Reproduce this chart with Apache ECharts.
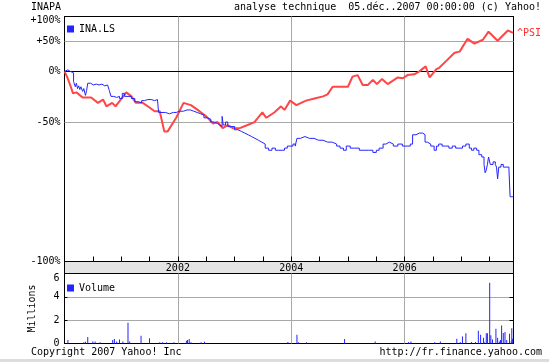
<!DOCTYPE html>
<html><head><meta charset="utf-8">
<script src="https://cdn.jsdelivr.net/npm/echarts@6/dist/echarts.min.js"></script>
<style>html,body{margin:0;padding:0;background:#fff}#c{width:549px;height:362px}</style>
</head><body><div id="c"></div>
<script>
// INA.LS relative performance (%), decimal years
const inaDates = [2000.00,2000.03,2000.06,2000.10,2000.13,2000.16,2000.19,2000.21,2000.23,2000.25,2000.27,2000.29,2000.32,2000.34,2000.37,2000.39,2000.41,2000.46,2000.51,2000.56,2000.61,2000.66,2000.71,2000.76,2000.79,2000.82,2000.87,2000.92,2000.97,2001.02,2001.06,2001.12,2001.18,2001.24,2001.30,2001.36,2001.41,2001.47,2001.53,2001.59,2001.64,2001.66,2001.72,2001.78,2001.85,2001.92,2001.97,2002.03,2002.10,2002.16,2002.22,2002.28,2002.34,2002.40,2002.46,2002.52,2002.58,2002.64,2002.70,2002.74,2002.78,2002.80,2002.84,2002.88,2002.94,2003.00,2003.06,2003.12,2003.18,2003.24,2003.30,2003.36,2003.42,2003.48,2003.54,2003.60,2003.66,2003.72,2003.78,2003.84,2003.88,2003.93,2003.98,2004.03,2004.07,2004.10,2004.16,2004.24,2004.32,2004.40,2004.48,2004.56,2004.64,2004.72,2004.80,2004.86,2004.92,2004.97,2005.04,2005.12,2005.20,2005.28,2005.36,2005.44,2005.50,2005.55,2005.62,2005.67,2005.73,2005.80,2005.88,2005.96,2006.04,2006.10,2006.14,2006.20,2006.26,2006.32,2006.36,2006.40,2006.46,2006.52,2006.56,2006.60,2006.66,2006.72,2006.78,2006.84,2006.90,2006.96,2007.02,2007.08,2007.14,2007.18,2007.22,2007.27,2007.31,2007.36,2007.40,2007.42,2007.44,2007.46,2007.48,2007.51,2007.56,2007.60,2007.62,2007.64,2007.66,2007.70,2007.74,2007.79,2007.84,2007.86,2007.91];
const inaPct = [0,2,0,1,-2,-13,-19,-15,-21,-18,-22,-19,-24,-21,-28,-23,-15,-17,-16,-17,-16,-18,-17,-18,-23,-29,-30,-29,-31,-26,-29,-29,-31,-34,-35,-33,-32,-32,-33,-32,-32,-43,-43,-44,-43,-43,-42,-42,-41,-41,-42,-43,-44,-45,-47,-48,-50,-51,-52,-53,-46,-52,-50,-53,-53,-55,-56,-57,-58,-59,-60,-61,-62,-63,-65,-66,-65,-66,-66,-66,-65,-64,-64,-63,-64,-60,-59,-60,-60,-61,-61,-62,-62,-63,-64,-65,-66,-64,-65,-65,-66,-66,-66,-67,-66,-65,-63,-62,-63,-64,-63,-64,-64,-63,-58,-57,-57,-58,-62,-63,-64,-66,-64,-63,-64,-64,-65,-64,-65,-65,-64,-63,-65,-66,-65,-66,-68,-69,-72,-75,-74,-72,-69,-72,-71,-72,-73,-77,-73,-72,-73,-73,-74,-82,-82];

// ^PSI relative performance (%)
const psiDates = [2000.00,2000.05,2000.10,2000.15,2000.21,2000.32,2000.47,2000.59,2000.68,2000.74,2000.84,2000.90,2001.09,2001.18,2001.26,2001.38,2001.50,2001.59,2001.68,2001.76,2001.82,2001.97,2002.10,2002.23,2002.38,2002.50,2002.62,2002.70,2002.79,2002.88,2002.97,2003.09,2003.23,2003.35,2003.49,2003.56,2003.70,2003.82,2003.88,2003.98,2004.09,2004.26,2004.41,2004.56,2004.64,2004.73,2004.88,2005.00,2005.08,2005.17,2005.26,2005.35,2005.44,2005.51,2005.60,2005.70,2005.88,2005.97,2006.05,2006.17,2006.26,2006.37,2006.44,2006.56,2006.61,2006.73,2006.88,2006.97,2007.11,2007.23,2007.38,2007.48,2007.64,2007.82,2007.91];
const psiPct = [0,-8,-17,-26,-25,-30,-30,-35,-32,-38,-35,-38,-25,-29,-35,-35,-39,-42,-42,-56,-56,-47,-35,-37,-42,-46,-51,-50,-54,-52,-54,-54,-52,-50,-43,-47,-43,-38,-41,-33,-37,-33,-31,-29,-27,-19,-19,-19,-7,-5,-17,-17,-11,-16,-10,-16,-8,-9,-5,-4,0,7,-8,3,5,15,29,31,56,46,54,72,52,75,69];

// Volume (millions)
const volDates = [2000.06,2000.34,2000.37,2000.41,2000.50,2000.54,2000.63,2000.85,2000.88,2000.92,2000.97,2001.03,2001.12,2001.15,2001.35,2001.50,2001.68,2001.73,2001.80,2001.93,2002.15,2002.17,2002.20,2002.23,2002.41,2002.47,2003.94,2004.10,2004.13,2004.27,2004.94,2005.48,2006.07,2006.11,2006.53,2006.63,2006.92,2006.98,2007.02,2007.08,2007.18,2007.25,2007.30,2007.34,2007.39,2007.40,2007.44,2007.46,2007.50,2007.52,2007.55,2007.61,2007.64,2007.67,2007.69,2007.71,2007.74,2007.77,2007.80,2007.85,2007.88,2007.89,2007.90];
const volMillions = [0.29,0.1,0.15,0.55,0.17,0.17,0.1,0.3,0.38,0.17,0.35,0.17,1.77,0.17,0.67,0.46,0.1,0.1,0.1,0.1,0.23,0.3,0.38,0.1,0.1,0.15,0.12,0.75,0.1,0.1,0.38,0.17,0.12,0.17,0.1,0.17,0.4,0.12,0.6,0.87,0.12,0.12,1.1,0.75,0.5,0.15,0.87,0.87,5.2,0.7,0.35,1.27,0.5,0.17,0.3,1.55,0.9,0.98,0.3,0.84,0.17,1.3,0.4];

const yTickPct = [100, 50, 0, -50, -100];
const gridPct = [50, 0, -50];
const volTicks = [0, 2, 4, 6];
const yearLabels = [2002, 2004, 2006];

const FONT = 'DejaVu Sans Mono';
const BLUE = '#2424ff', RED = '#ff4646', GRID = '#a8a8a8';
const X_MIN = 2000, X_MAX = 2007.92, Y_MIN = -2.6, Y_MAX = 0.75;
const toLog = p => p <= -100 ? Y_MIN : Math.log(1 + p / 100);
const pctLabel = v => {
  const i = yTickPct.findIndex(p => Math.abs(toLog(p) - v) < 1e-6);
  if (i < 0) return '';
  const p = yTickPct[i];
  return (p > 0 ? '+' : '') + p + '%';
};
const txt = {fontFamily: FONT, fontSize: 10, color: '#000'};
const blackLine = {show: true, onZero: false, lineStyle: {color: '#000', width: 1}};

const L = 64.5, W = 449;
const chart = echarts.init(document.getElementById('c'));
chart.setOption({
  animation: false,
  backgroundColor: '#fff',
  title: [
    {text: 'INAPA', left: 31, top: 2, padding: 0, textStyle: Object.assign({fontWeight: 'normal'}, txt)},
    {text: 'analyse technique  05.d\u00e9c..2007 00:00:00 (c) Yahoo!', right: 8, top: 2, padding: 0, textStyle: Object.assign({fontWeight: 'normal'}, txt)},
    {text: 'Copyright 2007 Yahoo! Inc', left: 31, top: 347, padding: 0, textStyle: Object.assign({fontWeight: 'normal'}, txt)},
    {text: 'http://fr.finance.yahoo.com', right: 7, top: 347, padding: 0, textStyle: Object.assign({fontWeight: 'normal'}, txt)}
  ],
  graphic: [{type: 'rect', left: 0, top: 359, shape: {width: 549, height: 3}, style: {fill: '#dcdcdc'}, silent: true}],
  legend: [
    {data: ['INA.LS'], left: 67, top: 24, padding: 0, icon: 'rect', itemWidth: 7, itemHeight: 7, itemGap: 4, selectedMode: false, textStyle: txt},
    {data: ['Volume'], left: 67, top: 283, padding: 0, icon: 'rect', itemWidth: 7, itemHeight: 7, itemGap: 4, selectedMode: false, textStyle: txt}
  ],
  grid: [
    {left: L, top: 16.5, width: W, height: 245, show: true, borderColor: '#000', borderWidth: 1, backgroundColor: '#fff'},
    {left: L, top: 261.5, width: W, height: 12, show: true, borderColor: '#000', borderWidth: 1, backgroundColor: '#e4e4e4'},
    {left: L, top: 273.5, width: W, height: 70, show: true, borderColor: '#000', borderWidth: 1, backgroundColor: '#fff'}
  ],
  xAxis: [
    {type: 'value', gridIndex: 0, position: 'bottom', min: X_MIN, max: X_MAX, interval: 0.5,
     axisLine: blackLine, splitLine: {show: false},
     axisTick: {show: true, inside: true, length: 5, lineStyle: {color: '#000'}},
     axisLabel: {margin: 2, formatter: v => yearLabels.includes(v) ? String(v) : '', fontFamily: FONT, fontSize: 10, color: '#000', showMinLabel: false, showMaxLabel: false}},
    {type: 'value', gridIndex: 0, position: 'top', min: X_MIN, max: X_MAX, interval: 2,
     axisLine: {show: false}, axisTick: {show: false}, axisLabel: {show: false},
     splitLine: {show: true, showMinLine: false, showMaxLine: false, lineStyle: {color: GRID, width: 1}}},
    {type: 'value', gridIndex: 1, min: X_MIN, max: X_MAX, show: false},
    {type: 'value', gridIndex: 2, min: X_MIN, max: X_MAX, interval: 2,
     axisLine: {show: false}, axisTick: {show: false}, axisLabel: {show: false},
     splitLine: {show: true, showMinLine: false, showMaxLine: false, lineStyle: {color: GRID, width: 1}}}
  ],
  yAxis: [
    {type: 'value', gridIndex: 0, min: Y_MIN, max: Y_MAX, position: 'left',
     axisLine: blackLine, splitLine: {show: false},
     axisTick: {show: true, inside: true, length: 3, customValues: gridPct.map(toLog), lineStyle: {color: '#000'}},
     axisLabel: {customValues: yTickPct.map(toLog), formatter: pctLabel, margin: 4, fontFamily: FONT, fontSize: 10, color: '#000'}},
    {type: 'value', gridIndex: 0, min: Y_MIN, max: Y_MAX, position: 'right',
     axisLine: blackLine, splitLine: {show: false}, axisLabel: {show: false},
     axisTick: {show: true, inside: true, length: 4, customValues: gridPct.map(toLog), lineStyle: {color: '#000'}}},
    {type: 'value', gridIndex: 1, show: false},
    {type: 'value', gridIndex: 2, min: 0, max: 6, interval: 2, position: 'left',
     name: 'Millions', nameLocation: 'middle', nameGap: 27, nameRotate: 90, nameTextStyle: txt,
     axisLine: blackLine,
     splitLine: {show: true, showMinLine: false, showMaxLine: false, lineStyle: {color: GRID, width: 1}},
     axisTick: {show: true, inside: true, length: 3, lineStyle: {color: '#000'}},
     axisLabel: {formatter: v => volTicks.includes(v) ? String(v) : '', verticalAlignMaxLabel: 'top', margin: 5, fontFamily: FONT, fontSize: 10, color: '#000'}},
    {type: 'value', gridIndex: 2, min: 0, max: 6, interval: 2, position: 'right',
     axisLine: blackLine, splitLine: {show: false}, axisLabel: {show: false},
     axisTick: {show: true, inside: true, length: 4, lineStyle: {color: '#000'}}}
  ],
  series: [
    {name: '^PSI', type: 'line', xAxisIndex: 0, yAxisIndex: 0, z: 2,
     data: psiDates.map((d, i) => [d, toLog(psiPct[i])]),
     showSymbol: false, symbol: 'none', lineStyle: {color: RED, width: 2}, itemStyle: {color: RED},
     endLabel: {show: true, formatter: '^PSI', color: '#ff3030', fontFamily: FONT, fontSize: 10, distance: 4}},
    {name: 'INA.LS', type: 'line', step: 'end', xAxisIndex: 0, yAxisIndex: 0, z: 3,
     data: inaDates.map((d, i) => [d, toLog(inaPct[i])]),
     showSymbol: false, symbol: 'none', lineStyle: {color: BLUE, width: 1}, itemStyle: {color: BLUE},
     markLine: {silent: true, symbol: 'none', label: {show: false}, z: 1,
       data: gridPct.map(p => ({yAxis: toLog(p), lineStyle: {color: p === 0 ? '#000' : GRID, width: 1, type: 'solid'}}))}},
    {name: 'Volume', type: 'bar', xAxisIndex: 3, yAxisIndex: 3, barWidth: 1,
     data: volDates.map((d, i) => [d, volMillions[i]]), itemStyle: {color: BLUE}}
  ]
});
</script></body></html>
